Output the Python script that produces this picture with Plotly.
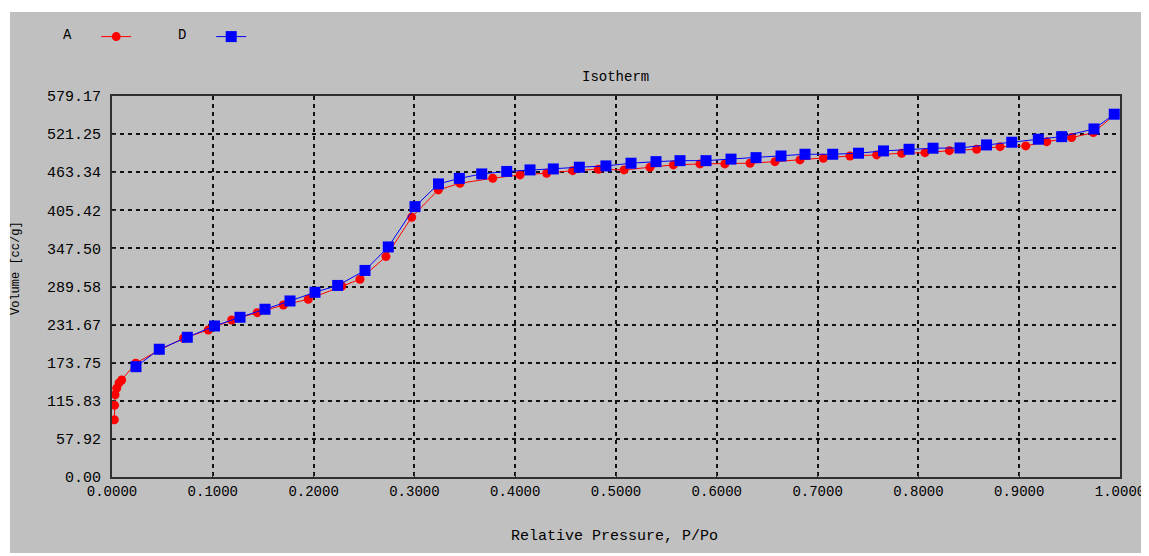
import plotly.graph_objects as go

# ---- data ----
a_x = [0.0023, 0.0025, 0.0030, 0.0047, 0.0070, 0.0096, 0.0235, 0.047, 0.071,
       0.0955, 0.1187, 0.1441, 0.1700, 0.1947, 0.2279, 0.2460, 0.2718, 0.2973,
       0.3237, 0.3452, 0.3777, 0.4048, 0.4312, 0.4570, 0.4825, 0.5080, 0.5337,
       0.5569, 0.5833, 0.6080, 0.6330, 0.6577, 0.6825, 0.7057, 0.7321, 0.7586,
       0.7834, 0.8065, 0.8307, 0.8578, 0.8810, 0.9065, 0.9273, 0.9520, 0.9735,
       0.9950]
a_y = [87.0, 109.0, 125.0, 135.0, 143.0, 147.5, 173.0, 193.0, 211.0,
       223.5, 238.7, 249.8, 261.5, 270.2, 290.4, 300.6, 335.0, 394.9,
       436.4, 446.5, 454.2, 459.2, 461.8, 465.7, 467.9, 466.8, 470.9,
       474.4, 475.9, 475.9, 477.0, 479.4, 482.0, 484.6, 488.0, 489.6,
       492.2, 493.0, 496.1, 498.2, 502.2, 503.3, 509.8, 515.9, 523.5,
       551.0]

d_x = [0.0238, 0.0469, 0.0747, 0.1017, 0.1270, 0.1518, 0.1766, 0.2014, 0.2239,
       0.2510, 0.2741, 0.3006, 0.3239, 0.3446, 0.3668, 0.3916, 0.4147, 0.4378,
       0.4636, 0.4900, 0.5149, 0.5397, 0.5635, 0.5893, 0.6141, 0.6389, 0.6637,
       0.6875, 0.7150, 0.7406, 0.7654, 0.7907, 0.8145, 0.8413, 0.8676, 0.8926,
       0.9190, 0.9422, 0.9742, 0.9943]
d_y = [167.7, 194.2, 212.4, 229.6, 242.8, 255.0, 267.6, 280.8, 291.2,
       314.0, 349.7, 411.0, 445.5, 453.9, 460.7, 464.5, 466.8, 468.3,
       470.9, 472.9, 477.0, 479.4, 480.9, 480.9, 483.2, 485.5, 488.0,
       490.6, 490.6, 492.2, 495.7, 498.2, 499.8, 500.2, 504.8, 508.9,
       513.5, 517.4, 529.1, 551.5]

y_ticks = [0.00, 57.92, 115.83, 173.75, 231.67, 289.58, 347.50, 405.42, 463.34, 521.25, 579.17]
x_ticks = [0.0, 0.1, 0.2, 0.3, 0.4, 0.5, 0.6, 0.7, 0.8, 0.9, 1.0]

series_names = ["A", "D"]
title_text = "Isotherm"
x_title = "Relative Pressure, P/Po"
y_title = "Volume [cc/g]"

FONT = "Liberation Mono, Courier New, monospace"
OFF = 8                     # page body margin
W, H = 1149 - OFF, 556 - OFF
L, T = 112 - OFF, 96 - OFF
R = W - (1120 - OFF)
B = H - (477 - OFF)
PW, PH = W - L - R, H - T - B

def px(xs):
    return (xs - OFF - L) / PW

def py(ys):
    return (H - B - (ys - OFF)) / PH

fig = go.Figure()
fig.add_trace(go.Scatter(
    x=a_x, y=a_y, mode="lines+markers", name="",
    line=dict(color="#FF0000", width=1),
    marker=dict(symbol="circle", size=9, color="#FF0000"),
    legend="legend",
))
fig.add_trace(go.Scatter(
    x=d_x, y=d_y, mode="lines+markers", name="",
    line=dict(color="#0000FF", width=1),
    marker=dict(symbol="square", size=11, color="#0000FF"),
    legend="legend2",
))

axis_common = dict(
    showline=True, mirror=True, linecolor="#303030", linewidth=2,
    showgrid=True, gridcolor="#111111", gridwidth=1.5, griddash="4px,4px",
    zeroline=False, ticks="inside", ticklen=4, tickcolor="#303030",
)

fig.update_xaxes(range=[0, 1], tickvals=x_ticks,
                 ticktext=[f"{v:.4f}" for v in x_ticks],
                 tickfont=dict(family=FONT, size=14, color="#000000"),
                 **axis_common)
fig.update_yaxes(range=[0, y_ticks[-1]], tickvals=y_ticks,
                 ticktext=[f"{v:.2f}" for v in y_ticks],
                 tickfont=dict(family=FONT, size=15, color="#000000"),
                 ticklabelstandoff=6, **axis_common)

fig.update_layout(
    width=W, height=H,
    margin=dict(l=L, r=R, t=T, b=B, autoexpand=False),
    paper_bgcolor="#FFFFFF",
    plot_bgcolor="#C0C0C0",
    font=dict(family=FONT, color="#000000"),
    showlegend=True,
    legend=dict(
        title=dict(text=series_names[0] + "&nbsp;&nbsp;", side="left",
                   font=dict(family=FONT, size=14)),
        orientation="h", x=px(61), y=py(37), xanchor="left", yanchor="middle",
        bgcolor="rgba(0,0,0,0)", font=dict(family=FONT, size=14),
    ),
    legend2=dict(
        title=dict(text=series_names[1] + "&nbsp;&nbsp;", side="left",
                   font=dict(family=FONT, size=14)),
        orientation="h", x=px(176), y=py(37), xanchor="left", yanchor="middle",
        bgcolor="rgba(0,0,0,0)", font=dict(family=FONT, size=14),
    ),
    shapes=[dict(
        type="rect", xref="paper", yref="paper", layer="below",
        x0=px(10), x1=px(1141), y0=py(553), y1=py(12),
        fillcolor="#C0C0C0", line=dict(width=0),
    )],
    annotations=[
        dict(text=title_text, xref="paper", yref="paper", x=px(615), y=py(77),
             xanchor="center", yanchor="middle", showarrow=False,
             font=dict(family=FONT, size=14)),
        dict(text=x_title, xref="paper", yref="paper", x=px(614), y=py(536),
             xanchor="center", yanchor="middle", showarrow=False,
             font=dict(family=FONT, size=15)),
        dict(text=y_title, xref="paper", yref="paper", x=px(16), y=py(268),
             xanchor="center", yanchor="middle", showarrow=False, textangle=-90,
             font=dict(family=FONT, size=12)),
    ],
)

fig.write_html("out.html")
